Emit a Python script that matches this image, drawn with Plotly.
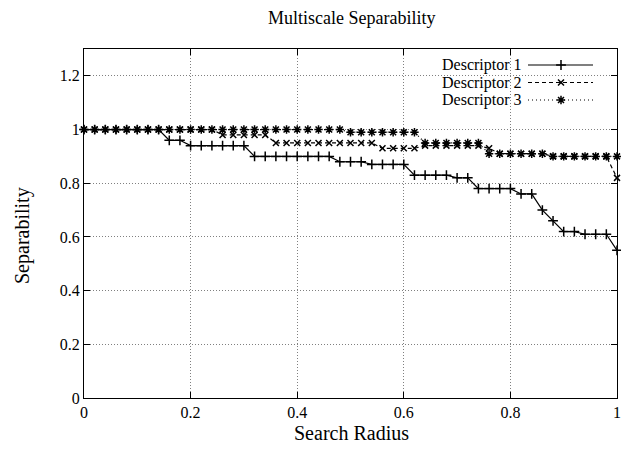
import plotly.graph_objects as go

radius = [round(i * 0.02, 2) for i in range(51)]

desc1 = ([1.0] * 8 + [0.96] * 2 + [0.94] * 6 + [0.90] * 8 + [0.88] * 3 + [0.87] * 4 +
         [0.83] * 4 + [0.82] * 2 + [0.78] * 4 + [0.76] * 2 + [0.70, 0.66, 0.62, 0.62] +
         [0.61] * 3 + [0.55])
desc2 = ([1.0] * 13 + [0.98] * 5 + [0.95] * 10 + [0.93] * 4 + [0.94] * 6 + [0.93] +
         [0.91] * 5 + [0.90] * 6 + [0.82])
desc3 = ([1.0] * 25 + [0.99] * 7 + [0.95] * 6 + [0.91] * 6 + [0.90] * 7)

names = ["Descriptor 1", "Descriptor 2", "Descriptor 3"]
x_ticks = [0, 0.2, 0.4, 0.6, 0.8, 1]
y_ticks = [0, 0.2, 0.4, 0.6, 0.8, 1, 1.2]

W, H = 621, 451
L, R, T, B = 84, 617, 49, 398
FONT = "Liberation Serif, Times New Roman, serif"

styles = [
    dict(dash="solid", symbol="cross-thin", size=7),
    dict(dash="4px,3px", symbol="x-thin", size=6),
    dict(dash="1px,3px", symbol="asterisk-open", size=7),
]

fig = go.Figure()
for name, ys, st in zip(names, [desc1, desc2, desc3], styles):
    fig.add_trace(go.Scatter(
        x=radius, y=ys, name=name, mode="lines+markers",
        line=dict(color="black", width=1.2, dash=st["dash"]),
        marker=dict(symbol=st["symbol"], size=st["size"], color="black",
                    line=dict(color="black", width=1.5)),
        showlegend=False, xaxis="x", yaxis="y", cliponaxis=False,
    ))

def sx(p):  # screen px -> paper x
    return (p - L) / (R - L)

def sy(p):  # screen px -> paper y
    return (B - p) / (B - T)

# gnuplot-style key (text left of sample)
rows_y = [65, 82.5, 100]
for name, st, ry in zip(names, styles, rows_y):
    fig.add_trace(go.Scatter(
        x=[sx(528), sx(593)], y=[sy(ry), sy(ry)], mode="lines",
        line=dict(color="black", width=1.2, dash=st["dash"]),
        showlegend=False, hoverinfo="skip", xaxis="x2", yaxis="y2",
    ))
    fig.add_trace(go.Scatter(
        x=[sx(561)], y=[sy(ry)], mode="markers",
        marker=dict(symbol=st["symbol"], size=st["size"], color="black",
                    line=dict(color="black", width=1.5)),
        showlegend=False, hoverinfo="skip", xaxis="x2", yaxis="y2",
    ))
    fig.add_annotation(x=sx(524), y=sy(ry), xref="paper", yref="paper",
                       text=name, showarrow=False, xanchor="right", yanchor="middle",
                       font=dict(family=FONT, size=16, color="black"))

fig.add_shape(type="rect", xref="paper", yref="paper",
              x0=sx(402), x1=sx(604), y0=sy(110), y1=1,
              fillcolor="white", line=dict(width=0), layer="between")

# axis titles and chart title
fig.add_annotation(x=sx(351), y=sy(433), xref="paper", yref="paper",
                   text="Search Radius", showarrow=False,
                   xanchor="center", yanchor="middle",
                   font=dict(family=FONT, size=20, color="black"))
fig.add_annotation(x=sx(22), y=sy(236), xref="paper", yref="paper",
                   text="Separability", showarrow=False, textangle=-90,
                   xanchor="center", yanchor="middle",
                   font=dict(family=FONT, size=20, color="black"))
fig.add_annotation(x=sx(351), y=sy(18), xref="paper", yref="paper",
                   text="Multiscale Separability", showarrow=False,
                   xanchor="center", yanchor="middle",
                   font=dict(family=FONT, size=18, color="black"))

axis_common = dict(
    showline=True, linecolor="black", linewidth=1, mirror="ticks",
    ticks="inside", ticklen=6, tickcolor="black", tickwidth=1,
    showgrid=True, gridcolor="#808080", griddash="1px,2px", gridwidth=1,
    zeroline=False, tickfont=dict(family=FONT, size=16, color="black"),
)

fig.update_layout(
    width=W, height=H,
    margin=dict(l=L, r=W - R, t=T, b=H - B, autoexpand=False),
    paper_bgcolor="white", plot_bgcolor="white",
    xaxis=dict(range=[0, 1], tickvals=x_ticks, ticktext=[str(v) for v in x_ticks],
               automargin=False, **axis_common),
    yaxis=dict(range=[0, 1.3], tickvals=y_ticks, ticktext=[str(v) for v in y_ticks],
               automargin=False, **axis_common),
    xaxis2=dict(range=[0, 1], overlaying="x", visible=False, anchor="y2"),
    yaxis2=dict(range=[0, 1], overlaying="y", visible=False, anchor="x2"),
    showlegend=False,
)

fig.write_html(
    "out.html",
    config={"displayModeBar": False},
    post_script="document.body.style.margin='0';document.body.style.overflow='hidden';"
                "document.documentElement.style.overflow='hidden';",
)
